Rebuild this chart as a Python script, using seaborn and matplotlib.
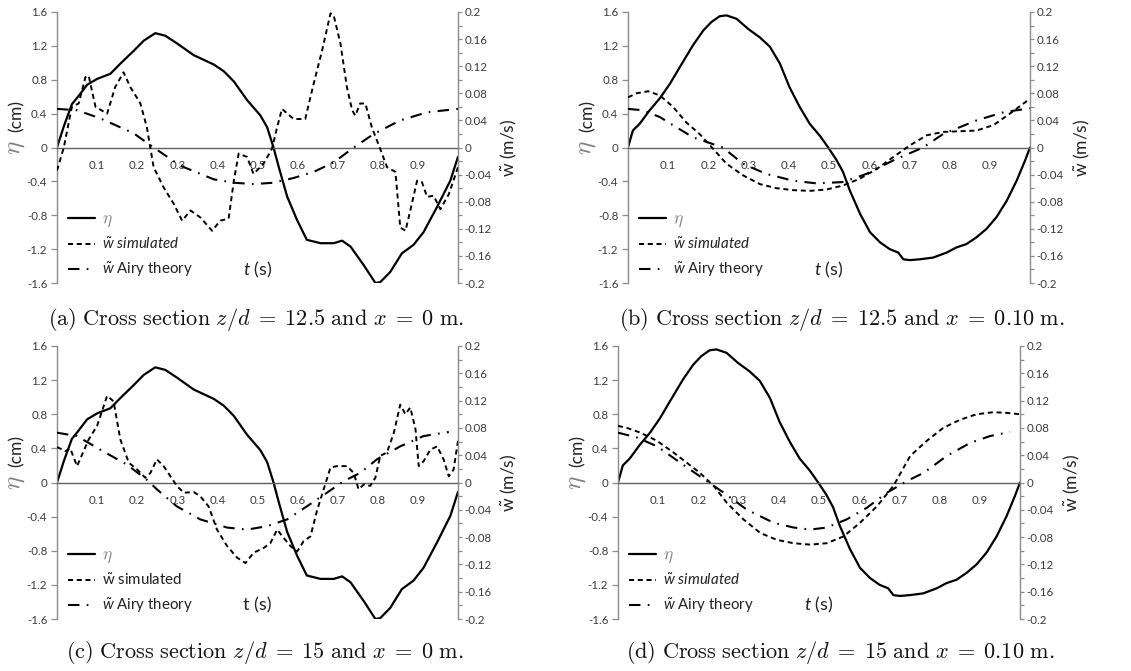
import numpy as np
import matplotlib
matplotlib.use("Agg")
import matplotlib.pyplot as plt
from matplotlib.ticker import FixedLocator, FixedFormatter
from matplotlib.lines import Line2D
import seaborn as sns

sns.set_style("white")
plt.rcParams["font.family"] = ["Lato", "DejaVu Sans"]
plt.rcParams["mathtext.fontset"] = "custom"
plt.rcParams["mathtext.rm"] = "Lato"
plt.rcParams["mathtext.it"] = "Lato:italic"
plt.rcParams["mathtext.bf"] = "Lato:bold"
plt.rcParams["axes.unicode_minus"] = False

# ---------------------------------------------------------------- data
# free-surface elevation eta (cm) at x = 0 m
t_eta_x0 = [0, 0.017, 0.037, 0.054, 0.075, 0.100, 0.133, 0.158, 0.191, 0.216, 0.245,
            0.270, 0.299, 0.341, 0.391, 0.416, 0.441, 0.474, 0.507, 0.524, 0.540, 0.553,
            0.574, 0.599, 0.623, 0.657, 0.690, 0.711, 0.732, 0.765, 0.794, 0.806, 0.831,
            0.860, 0.889, 0.914, 0.948, 0.981, 1.0]
eta_x0 = [0, 0.25, 0.51, 0.61, 0.74, 0.81, 0.87, 0.99, 1.14, 1.26, 1.35,
          1.32, 1.23, 1.09, 0.98, 0.90, 0.78, 0.56, 0.38, 0.24, 0, -0.23,
          -0.58, -0.86, -1.09, -1.13, -1.13, -1.10, -1.17, -1.39, -1.60, -1.59, -1.47,
          -1.25, -1.15, -1.0, -0.70, -0.39, -0.11]

# free-surface elevation eta (cm) at x = 0.10 m
t_eta_x10 = [0, 0.012, 0.029, 0.054, 0.079, 0.104, 0.129, 0.162, 0.187, 0.207, 0.228,
             0.245, 0.270, 0.299, 0.328, 0.353, 0.378, 0.402, 0.427, 0.452, 0.477, 0.498,
             0.519, 0.535, 0.552, 0.577, 0.602, 0.627, 0.651, 0.672, 0.685, 0.701, 0.726,
             0.759, 0.793, 0.817, 0.842, 0.867, 0.892, 0.917, 0.942, 0.967, 0.988, 1.0]
eta_x10 = [0, 0.20, 0.28, 0.44, 0.58, 0.75, 0.95, 1.21, 1.38, 1.48, 1.55,
           1.56, 1.52, 1.40, 1.30, 1.19, 0.99, 0.71, 0.48, 0.28, 0.14, 0,
           -0.15, -0.29, -0.51, -0.78, -1.0, -1.12, -1.20, -1.24, -1.32, -1.33, -1.32,
           -1.30, -1.24, -1.18, -1.14, -1.06, -0.96, -0.82, -0.63, -0.39, -0.15, 0]

# (a) z/d = 12.5, x = 0 m : vertical velocity w (m/s)
t_sim_a = [0, 0.017, 0.037, 0.054, 0.071, 0.079, 0.096, 0.125, 0.145, 0.166, 0.183,
           0.208, 0.224, 0.241, 0.266, 0.291, 0.312, 0.333, 0.357, 0.387, 0.407, 0.428,
           0.441, 0.453, 0.474, 0.490, 0.515, 0.536, 0.549, 0.561, 0.590, 0.619, 0.640,
           0.661, 0.682, 0.690, 0.707, 0.723, 0.736, 0.744, 0.756, 0.769, 0.785, 0.806,
           0.823, 0.844, 0.856, 0.869, 0.881, 0.898, 0.910, 0.923, 0.939, 0.956, 0.977, 1.0]
w_sim_a = [-0.034, 0, 0.060, 0.065, 0.104, 0.106, 0.060, 0.050, 0.089, 0.111, 0.089,
           0.065, 0.030, -0.029, -0.059, -0.083, -0.108, -0.093, -0.103, -0.123, -0.108, -0.105,
           -0.049, -0.009, -0.014, -0.039, -0.024, -0.002, 0.030, 0.057, 0.042, 0.042, 0.094,
           0.143, 0.198, 0.195, 0.153, 0.089, 0.055, 0.047, 0.065, 0.065, 0.030, -0.002,
           -0.029, -0.036, -0.118, -0.123, -0.093, -0.049, -0.051, -0.073, -0.071, -0.091, -0.069, -0.029]
t_airy_a = [0, 0.050, 0.108, 0.191, 0.241, 0.308, 0.391, 0.441, 0.490, 0.540, 0.590,
            0.640, 0.690, 0.740, 0.790, 0.856, 0.923, 1.0]
w_airy_a = [0.057, 0.055, 0.043, 0.021, 0, -0.027, -0.047, -0.052, -0.054, -0.052, -0.045,
            -0.036, -0.022, 0, 0.020, 0.040, 0.052, 0.057]

# (b) z/d = 12.5, x = 0.10 m
t_sim_b = [0, 0.021, 0.050, 0.079, 0.112, 0.145, 0.178, 0.212, 0.245, 0.286, 0.328,
           0.369, 0.411, 0.452, 0.494, 0.535, 0.577, 0.618, 0.660, 0.701, 0.743, 0.784,
           0.826, 0.867, 0.909, 0.950, 1.0]
w_sim_b = [0.074, 0.080, 0.083, 0.077, 0.060, 0.037, 0.020, -0.002, -0.024, -0.041, -0.054,
           -0.060, -0.063, -0.064, -0.062, -0.056, -0.046, -0.032, -0.014, 0.003, 0.018, 0.023,
           0.024, 0.025, 0.033, 0.050, 0.072]
t_airy_b = [0, 0.037, 0.079, 0.120, 0.162, 0.236, 0.286, 0.344, 0.411, 0.469, 0.535,
            0.593, 0.660, 0.734, 0.784, 0.867, 0.934, 1.0]
w_airy_b = [0.057, 0.055, 0.045, 0.030, 0.015, 0, -0.024, -0.039, -0.049, -0.053, -0.051,
            -0.039, -0.019, 0, 0.020, 0.040, 0.052, 0.058]

# (c) z/d = 15, x = 0 m
t_sim_c = [0, 0.021, 0.033, 0.050, 0.079, 0.100, 0.125, 0.141, 0.158, 0.179, 0.200,
           0.220, 0.233, 0.249, 0.266, 0.283, 0.299, 0.316, 0.341, 0.357, 0.378, 0.399,
           0.424, 0.449, 0.470, 0.490, 0.515, 0.532, 0.549, 0.565, 0.582, 0.599, 0.615,
           0.632, 0.648, 0.665, 0.682, 0.698, 0.723, 0.740, 0.752, 0.765, 0.781, 0.794,
           0.806, 0.823, 0.840, 0.856, 0.869, 0.881, 0.894, 0.902, 0.914, 0.931, 0.948,
           0.964, 0.977, 0.989, 1.0]
w_sim_c = [0.052, 0.046, 0.050, 0.024, 0.063, 0.083, 0.127, 0.119, 0.063, 0.029, 0.019,
           0.007, 0.014, 0.034, 0.024, 0.009, -0.005, -0.015, -0.014, -0.020, -0.035, -0.069,
           -0.093, -0.110, -0.118, -0.103, -0.096, -0.089, -0.069, -0.081, -0.093, -0.101, -0.086,
           -0.079, -0.042, -0.010, 0.022, 0.024, 0.024, 0.014, -0.010, -0.003, -0.005, 0.007,
           0.039, 0.044, 0.073, 0.114, 0.100, 0.110, 0.078, 0.024, 0.031, 0.048, 0.053,
           0.034, 0.009, 0.019, 0.061]
t_airy_c = [0, 0.050, 0.108, 0.175, 0.224, 0.249, 0.299, 0.357, 0.424, 0.474, 0.524,
            0.574, 0.623, 0.673, 0.715, 0.756, 0.798, 0.856, 0.914, 0.977]
w_airy_c = [0.073, 0.068, 0.048, 0.026, 0.004, -0.010, -0.035, -0.054, -0.066, -0.069, -0.064,
            -0.054, -0.035, -0.015, 0.002, 0.014, 0.034, 0.053, 0.068, 0.074]

# (d) z/d = 15, x = 0.10 m
t_sim_d = [0, 0.022, 0.056, 0.097, 0.138, 0.171, 0.204, 0.238, 0.271, 0.312, 0.354,
           0.395, 0.437, 0.478, 0.519, 0.561, 0.602, 0.644, 0.685, 0.727, 0.768, 0.809,
           0.851, 0.892, 0.934, 0.967, 1.0]
w_sim_d = [0.083, 0.080, 0.073, 0.061, 0.044, 0.029, 0.014, -0.005, -0.030, -0.054, -0.074,
           -0.084, -0.089, -0.091, -0.089, -0.079, -0.059, -0.035, -0.005, 0.039, 0.061, 0.080,
           0.092, 0.100, 0.103, 0.102, 0.100]
t_airy_d = [0, 0.047, 0.097, 0.155, 0.221, 0.263, 0.321, 0.387, 0.437, 0.478, 0.519,
            0.569, 0.619, 0.669, 0.718, 0.760, 0.818, 0.876, 0.925, 0.975]
w_airy_d = [0.073, 0.066, 0.053, 0.029, 0.002, -0.015, -0.040, -0.059, -0.066, -0.069, -0.066,
            -0.054, -0.037, -0.015, 0.002, 0.014, 0.039, 0.058, 0.068, 0.074]

# axis ticks and labels
t_ticks = [0.1, 0.2, 0.3, 0.4, 0.5, 0.6, 0.7, 0.8, 0.9]
t_tick_labels = ["0.1", "0.2", "0.3", "0.4", "0.5", "0.6", "0.7", "0.8", "0.9"]
eta_ticks = [-1.6, -1.2, -0.8, -0.4, 0, 0.4, 0.8, 1.2, 1.6]
eta_tick_labels = ["-1.6", "-1.2", "-0.8", "-0.4", "0", "0.4", "0.8", "1.2", "1.6"]
w_ticks = [-0.2, -0.16, -0.12, -0.08, -0.04, 0, 0.04, 0.08, 0.12, 0.16, 0.2]
w_tick_labels = ["-0.2", "-0.16", "-0.12", "-0.08", "-0.04", "0", "0.04", "0.08", "0.12",
                 "0.16", "0.2"]

captions = [
    r"$\mathrm{(a)\ Cross\ section\ }z/d \;=\; 12.5\mathrm{\ and\ }x \;=\; 0\mathrm{\ m.}$",
    r"$\mathrm{(b)\ Cross\ section\ }z/d \;=\; 12.5\mathrm{\ and\ }x \;=\; 0.10\mathrm{\ m.}$",
    r"$\mathrm{(c)\ Cross\ section\ }z/d \;=\; 15\mathrm{\ and\ }x \;=\; 0\mathrm{\ m.}$",
    r"$\mathrm{(d)\ Cross\ section\ }z/d \;=\; 15\mathrm{\ and\ }x \;=\; 0.10\mathrm{\ m.}$",
]

# ---------------------------------------------------------------- style
SPINE = "#8c8c8c"
TXT = "#3a3a3a"
ETA_GREY = "#7f7f7f"
DASH_SIM = (0, (2.6, 1.9))
DASH_AIRY = (0, (5.5, 3.5, 0.8, 3.5))

fig = plt.figure(figsize=(11.31, 6.71), dpi=100)
fig.patch.set_facecolor("white")


def draw_panel(rect, t_eta, eta, t_sim, w_sim, t_airy, w_airy,
               sim_label, t_label, caption, cap_xy):
    ax = fig.add_axes(rect)
    ax2 = ax.twinx()

    sns.lineplot(x=t_eta, y=eta, ax=ax, color="black", lw=1.6, sort=False)
    sns.lineplot(x=t_sim, y=w_sim, ax=ax2, color="black", lw=1.4,
                 linestyle=DASH_SIM, sort=False)
    sns.lineplot(x=t_airy, y=w_airy, ax=ax2, color="black", lw=1.5,
                 linestyle=DASH_AIRY, sort=False)

    ax.set_xlim(0, 1.0)
    ax.set_ylim(-1.6, 1.6)
    ax2.set_ylim(-0.2, 0.2)
    ax.set_facecolor("none")

    # time axis drawn along eta = 0
    for s in ("top", "right"):
        ax.spines[s].set_visible(False)
    ax.spines["bottom"].set_position(("data", 0))
    ax.spines["bottom"].set_color("#606060")
    ax.spines["bottom"].set_linewidth(1.0)
    ax.spines["left"].set_color(SPINE)
    ax.spines["left"].set_linewidth(1.0)
    for s in ("top", "left", "bottom"):
        ax2.spines[s].set_visible(False)
    ax2.spines["right"].set_color(SPINE)
    ax2.spines["right"].set_linewidth(1.0)

    ax.xaxis.set_major_locator(FixedLocator(t_ticks))
    ax.xaxis.set_major_formatter(FixedFormatter(t_tick_labels))
    ax.xaxis.set_minor_locator(FixedLocator(np.linspace(0, 1.0, 28)))
    ax.tick_params(axis="x", which="major", length=0, pad=9, labelsize=8.3, labelcolor=TXT)
    ax.tick_params(axis="x", which="minor", direction="out", length=4, width=0.9,
                   color="#606060")

    ax.yaxis.set_major_locator(FixedLocator(eta_ticks))
    ax.yaxis.set_major_formatter(FixedFormatter(eta_tick_labels))
    ax.tick_params(axis="y", which="major", direction="out", length=4, width=0.9,
                   color=SPINE, labelsize=8.3, labelcolor=TXT, pad=3)

    ax2.yaxis.set_major_locator(FixedLocator(w_ticks))
    ax2.yaxis.set_major_formatter(FixedFormatter(w_tick_labels))
    ax2.yaxis.set_minor_locator(FixedLocator(np.arange(-0.2, 0.2001, 0.02)))
    ax2.tick_params(axis="y", which="both", direction="out", length=3, width=0.9,
                    color=SPINE, labelsize=8.3, labelcolor=TXT, pad=1.5)
    ax.set_xlabel("")
    ax.set_ylabel("")
    ax2.set_ylabel("")

    # axis titles
    ax.text(-0.103, 0.50, r"$\eta$", rotation=90, transform=ax.transAxes,
            color=ETA_GREY, fontsize=18, math_fontfamily="cm", ha="center", va="center")
    ax.text(-0.100, 0.615, "(cm)", rotation=90, transform=ax.transAxes,
            color="#222222", fontsize=12.5, ha="center", va="center")
    ax2.text(1.128, 0.50, r"$\tilde{\mathrm{w}}$ (m/s)", rotation=90,
             transform=ax2.transAxes, color="#222222", fontsize=12.5,
             ha="center", va="center")
    ax2.text(0.50, 0.05, t_label, transform=ax2.transAxes, color="#222222",
             fontsize=13, ha="center", va="center")

    handles = [Line2D([], [], color="black", lw=1.6),
               Line2D([], [], color="black", lw=1.4, linestyle=DASH_SIM),
               Line2D([], [], color="black", lw=1.5, linestyle=(0, (5.5, 3.5, 0.8, 3.5)))]
    labels = [r"$\eta$", sim_label, r"$\tilde{w}$ Airy theory"]
    leg = ax2.legend(handles, labels, loc="lower left", bbox_to_anchor=(0.027, 0.015),
                     frameon=False, fontsize=10.8, handlelength=1.8, handletextpad=0.5,
                     labelspacing=0.5, borderpad=0, borderaxespad=0)
    texts = leg.get_texts()
    texts[0].set_math_fontfamily("cm")
    texts[0].set_color(ETA_GREY)
    texts[0].set_fontsize(12.5)
    for tx in texts[1:]:
        tx.set_color("#222222")

    fig.text(cap_xy[0], cap_xy[1], caption, ha="center", va="center",
             fontsize=16, math_fontfamily="cm", color="#111111")


draw_panel([57 / 1131, 1 - 283 / 671, 401 / 1131, 271 / 671],
           t_eta_x0, eta_x0, t_sim_a, w_sim_a, t_airy_a, w_airy_a,
           r"$\tilde{w}\ \mathit{simulated}$", r"$t$ (s)", captions[0],
           (256 / 1131, 1 - 320 / 671))
draw_panel([628 / 1131, 1 - 283 / 671, 402 / 1131, 271 / 671],
           t_eta_x10, eta_x10, t_sim_b, w_sim_b, t_airy_b, w_airy_b,
           r"$\tilde{w}\ \mathit{simulated}$", r"$t$ (s)", captions[1],
           (842 / 1131, 1 - 320 / 671))
draw_panel([57 / 1131, 1 - 619 / 671, 401 / 1131, 273 / 671],
           t_eta_x0, eta_x0, t_sim_c, w_sim_c, t_airy_c, w_airy_c,
           r"$\tilde{\mathrm{w}}$ simulated", "t (s)", captions[2],
           (265 / 1131, 1 - 652 / 671))
draw_panel([618 / 1131, 1 - 619 / 671, 402 / 1131, 273 / 671],
           t_eta_x10, eta_x10, t_sim_d, w_sim_d, t_airy_d, w_airy_d,
           r"$\tilde{w}\ \mathit{simulated}$", r"$t$ (s)", captions[3],
           (840 / 1131, 1 - 652 / 671))

fig.savefig("out.png", dpi=100, facecolor="white")
